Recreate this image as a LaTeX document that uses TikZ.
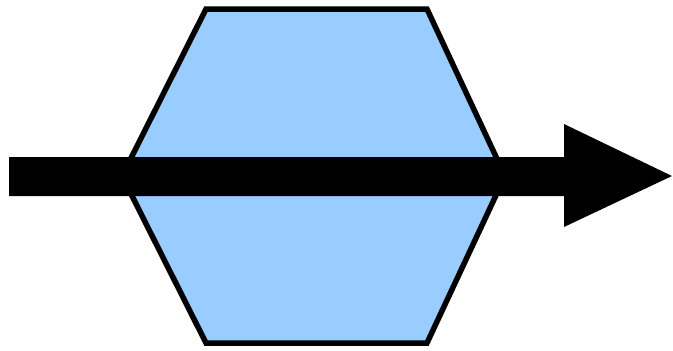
\documentclass[tikz,border=0pt]{standalone}
\definecolor{hexblue}{RGB}{153,204,255}
\begin{document}
\begin{tikzpicture}[x=1pt,y=-1pt,
  hexstyle/.style={fill=hexblue,draw=black,line width=5.5pt,line join=miter},
  arrowstyle/.style={fill=black,draw=none}]
\useasboundingbox (0,0) rectangle (673,351);
\draw[hexstyle] (206,9) -- (427,9) -- (505,176) -- (427,343) -- (206,343) -- (122,176) -- cycle;
\fill[arrowstyle] (9,157) -- (564,157) -- (564,124) -- (672,176) -- (564,227) -- (564,196) -- (9,196) -- cycle;
\end{tikzpicture}
\end{document}
